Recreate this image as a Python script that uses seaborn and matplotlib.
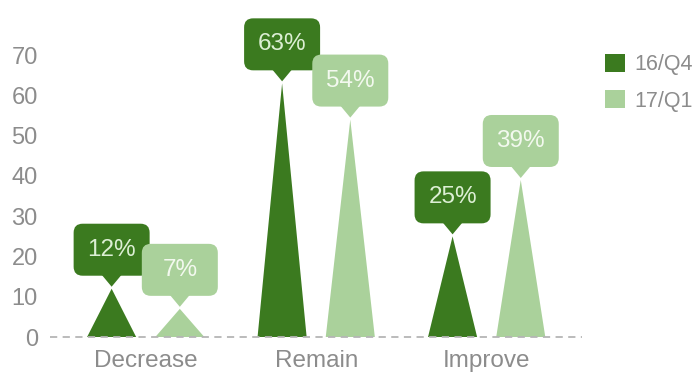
import numpy as np
import pandas as pd
import seaborn as sns
import matplotlib
matplotlib.use("Agg")
import matplotlib.pyplot as plt
from matplotlib.patches import Polygon, FancyBboxPatch
from matplotlib.transforms import Affine2D, ScaledTranslation

# Survey outlook by quarter (percent of respondents)
categories = ["Decrease", "Remain", "Improve"]
quarters = ["16/Q4", "17/Q1"]
q4_values = [12, 63, 25]
q1_values = [7, 54, 39]
y_ticks = [0, 10, 20, 30, 40, 50, 60, 70]

colors = {"16/Q4": "#3b7a1f", "17/Q1": "#aad19b"}
label_text_colors = {"16/Q4": "#dcefd4", "17/Q1": "#f3f9ef"}
gray = "#8c8c8c"

df = pd.DataFrame({
    "category": categories * 2,
    "quarter": [quarters[0]] * 3 + [quarters[1]] * 3,
    "value": q4_values + q1_values,
})

sns.set_theme(style="white")
plt.rcParams["font.family"] = ["Liberation Sans", "DejaVu Sans"]

fig = plt.figure(figsize=(6.98, 3.72), dpi=100)
ax = fig.add_axes([0.072, 0.094, 0.762, 0.866])

sns.barplot(data=df, x="category", y="value", hue="quarter",
            palette=colors, width=0.8, ax=ax, legend=False)

ax.set_xlim(-0.56, 2.56)
ax.set_ylim(0, 80)
ax.set_yticks(y_ticks)

# Turn each bar into a triangle ("spike") sharing its value
for container, q in zip(ax.containers, quarters):
    for bar in container:
        bar.set_visible(False)
        x0, w, h = bar.get_x(), bar.get_width(), bar.get_height()
        cx = x0 + w / 2
        half = w * 0.36
        tri = Polygon([[cx - half, 0], [cx + half, 0], [cx, h]],
                      closed=True, facecolor=colors[q], edgecolor="none",
                      zorder=3)
        ax.add_patch(tri)

        # Callout label anchored at the apex, sized in pixels
        tr = Affine2D() + ScaledTranslation(cx, h, ax.transData)
        bw, bh, ph, pw = 76, 52, 13, 20
        box = FancyBboxPatch((-bw / 2, ph), bw, bh,
                             boxstyle="round,pad=0,rounding_size=9",
                             transform=tr, facecolor=colors[q],
                             edgecolor="none", zorder=5, clip_on=False)
        ax.add_patch(box)
        ptr = Polygon([[-pw / 2, ph + 1], [pw / 2, ph + 1], [0, 2]],
                      closed=True, transform=tr, facecolor=colors[q],
                      edgecolor="none", zorder=5, clip_on=False)
        ax.add_patch(ptr)
        ax.text(0, ph + bh / 2, f"{int(round(h))}%", transform=tr,
                ha="center", va="center", fontsize=17.5,
                color=label_text_colors[q], zorder=6)

# Dashed baseline
ax.axhline(0, color="#b5b5b5", lw=1.3, ls=(0, (4, 3)), zorder=4,
           clip_on=False)

for s in ax.spines.values():
    s.set_visible(False)
ax.set_xlabel("")
ax.set_ylabel("")
ax.tick_params(axis="y", length=0, labelsize=17, colors=gray, pad=9)
ax.tick_params(axis="x", length=0, labelsize=17.5, colors=gray, pad=9)
for lbl in ax.get_xticklabels() + ax.get_yticklabels():
    lbl.set_color(gray)

# Legend
handles = [plt.Rectangle((0, 0), 1, 1, facecolor=colors[q], edgecolor="none")
           for q in quarters]
leg = fig.legend(handles, quarters, loc="upper left",
                 bbox_to_anchor=(0.855, 0.878), frameon=False,
                 fontsize=15.5, handlelength=0.9, handleheight=0.9,
                 handletextpad=0.45, labelspacing=0.7, borderaxespad=0)
for t in leg.get_texts():
    t.set_color(gray)

fig.savefig("out.png", dpi=100)
